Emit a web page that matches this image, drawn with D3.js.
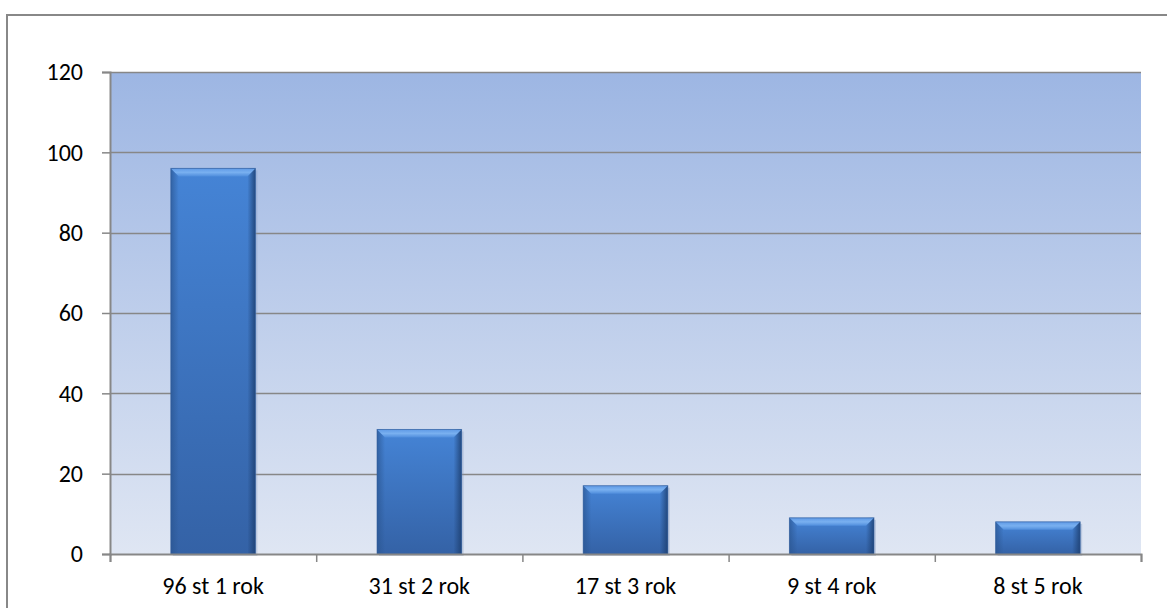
<!DOCTYPE html>
<html>
<head>
<meta charset="utf-8">
<script src="https://cdn.jsdelivr.net/npm/d3@7"></script>
<style>
  body { margin: 0; background: #fff; }
  svg { display: block; }
</style>
</head>
<body>
<script>
// chart values
var categories = ["96 st 1 rok", "31 st 2 rok", "17 st 3 rok", "9 st 4 rok", "8 st 5 rok"]
var values = [96, 31, 17, 9, 8]
var yTicks = [0, 20, 40, 60, 80, 100, 120]

var W = 1167, H = 608
var pLeft = 110, pRight = 1141, pTop = 72, pBottom = 554
var font = "Carlito, 'Liberation Sans', Arial, sans-serif"

var svg = d3.select("body").append("svg")
  .attr("width", W)
  .attr("height", H)
  .style("font-family", font)

var defs = svg.append("defs")

var bg = defs.append("linearGradient").attr("id", "bg")
  .attr("x1", 0).attr("y1", 0).attr("x2", 0).attr("y2", 1)
bg.append("stop").attr("offset", "0%").attr("stop-color", "#9db6e3")
bg.append("stop").attr("offset", "100%").attr("stop-color", "#dfe6f3")

var barFill = defs.append("linearGradient").attr("id", "barFill")
  .attr("x1", 0).attr("y1", 0).attr("x2", 0).attr("y2", 1)
barFill.append("stop").attr("offset", "0%").attr("stop-color", "#4584d6")
barFill.append("stop").attr("offset", "100%").attr("stop-color", "#3462a6")

var sideL = defs.append("linearGradient").attr("id", "sideL")
  .attr("x1", 0).attr("y1", 0).attr("x2", 1).attr("y2", 0)
sideL.append("stop").attr("offset", "0%").attr("stop-color", "#2a5590").attr("stop-opacity", 0.7)
sideL.append("stop").attr("offset", "100%").attr("stop-color", "#2a5590").attr("stop-opacity", 0)

var sideR = defs.append("linearGradient").attr("id", "sideR")
  .attr("x1", 1).attr("y1", 0).attr("x2", 0).attr("y2", 0)
sideR.append("stop").attr("offset", "0%").attr("stop-color", "#1d3f70").attr("stop-opacity", 0.85)
sideR.append("stop").attr("offset", "100%").attr("stop-color", "#1d3f70").attr("stop-opacity", 0)

var topBev = defs.append("linearGradient").attr("id", "topBev")
  .attr("x1", 0).attr("y1", 0).attr("x2", 0).attr("y2", 1)
topBev.append("stop").attr("offset", "0%").attr("stop-color", "#5f9ae6")
topBev.append("stop").attr("offset", "50%").attr("stop-color", "#79b0f0")
topBev.append("stop").attr("offset", "100%").attr("stop-color", "#4f8ddc")

// outer frame
svg.append("rect")
  .attr("x", 7).attr("y", 15)
  .attr("width", 1170).attr("height", 610)
  .attr("fill", "#fff")
  .attr("stroke", "#888")
  .attr("stroke-width", 2)

var x = d3.scaleBand()
  .domain(categories)
  .range([pLeft, pRight])
  .paddingInner(0.59)
  .paddingOuter(0.295)

var y = d3.scaleLinear()
  .domain([0, 120])
  .range([pBottom, pTop])

// plot background
svg.append("rect")
  .attr("x", pLeft).attr("y", pTop)
  .attr("width", pRight - pLeft).attr("height", pBottom - pTop)
  .attr("fill", "url(#bg)")

// gridlines
svg.append("g")
  .selectAll("line")
  .data(yTicks.filter(function(d){ return d > 0 }))
  .enter()
  .append("line")
  .attr("x1", pLeft).attr("x2", pRight)
  .attr("y1", function(d){ return Math.round(y(d)) + 0.5 })
  .attr("y2", function(d){ return Math.round(y(d)) + 0.5 })
  .attr("stroke", "#878787")
  .attr("stroke-width", 1.5)

// bars
var bars = svg.append("g")
  .selectAll("g")
  .data(values)
  .enter()
  .append("g")
  .attr("transform", function(d, i){ return "translate(" + x(categories[i]) + "," + y(d) + ")" })

var bw = x.bandwidth()
var bev = 8

bars.append("rect")
  .attr("x", 2).attr("y", 2)
  .attr("width", bw).attr("height", function(d){ return y(0) - y(d) })
  .attr("fill", "#7f95bd")
  .attr("opacity", 0.35)

bars.append("rect")
  .attr("width", bw)
  .attr("height", function(d){ return y(0) - y(d) })
  .attr("fill", "url(#barFill)")

bars.append("rect")
  .attr("width", bev)
  .attr("height", function(d){ return y(0) - y(d) })
  .attr("fill", "url(#sideL)")

bars.append("rect")
  .attr("x", bw - bev)
  .attr("width", bev)
  .attr("height", function(d){ return y(0) - y(d) })
  .attr("fill", "url(#sideR)")

bars.append("path")
  .attr("d", "M0,0 L" + bw + ",0 L" + (bw - bev) + "," + bev + " L" + bev + "," + bev + " Z")
  .attr("fill", "url(#topBev)")

bars.append("rect")
  .attr("width", bw)
  .attr("height", function(d){ return y(0) - y(d) })
  .attr("fill", "none")
  .attr("stroke", "#2f5a98")
  .attr("stroke-opacity", 0.6)
  .attr("stroke-width", 1)

// y axis
var yAxis = d3.axisLeft(y).tickValues(yTicks).tickSize(8).tickPadding(19)
var gy = svg.append("g").attr("transform", "translate(" + pLeft + ",0)").call(yAxis)
gy.select(".domain").attr("stroke", "#878787").attr("stroke-width", 2)
gy.selectAll(".tick line").attr("stroke", "#878787").attr("stroke-width", 1.5)
gy.selectAll(".tick text").attr("font-size", 24).attr("fill", "#000")
  .attr("font-family", font)

// x axis
var xEdge = d3.scaleLinear().domain([0, categories.length]).range([pLeft, pRight])
var xAxis = d3.axisBottom(xEdge).ticks(categories.length).tickFormat("").tickSize(8)
var gx = svg.append("g").attr("transform", "translate(0," + pBottom + ")").call(xAxis)
gx.select(".domain").attr("stroke", "#878787").attr("stroke-width", 2)
gx.selectAll(".tick line").attr("stroke", "#878787").attr("stroke-width", 1.5)

svg.append("g")
  .selectAll("text")
  .data(categories)
  .enter()
  .append("text")
  .attr("x", function(d){ return x(d) + bw / 2 })
  .attr("y", 594)
  .attr("text-anchor", "middle")
  .attr("font-size", 24)
  .attr("fill", "#000")
  .text(function(d){ return d })
</script>
</body>
</html>
